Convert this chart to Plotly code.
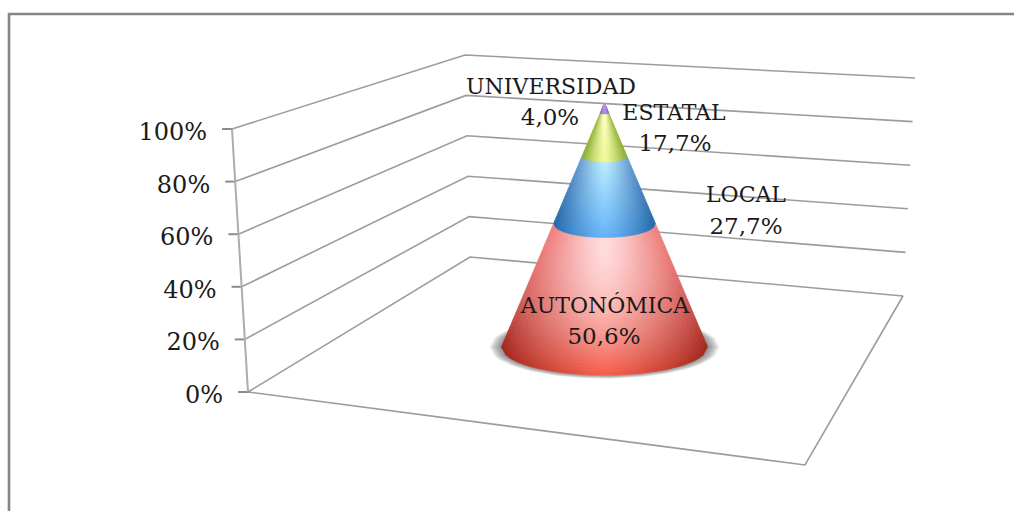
import plotly.graph_objects as go

# Chart data
categories = ["AUTONÓMICA", "LOCAL", "ESTATAL", "UNIVERSIDAD"]
shares = [50.6, 27.7, 17.7, 4.0]
axis_ticks = [0, 20, 40, 60, 80, 100]
tick_labels = ["0%", "20%", "40%", "60%", "80%", "100%"]

# Wall and floor corners of the 3D box, as (x, y) at 0% and at 100%
LEFT = ((248, 392), (232, 129))
BACK = ((470, 257), (465, 55))
RIGHT = ((903, 296), (915, 78))
FRONT = (805, 465)

# Cone projection
CONE_X, CONE_BASE_Y, CONE_H, CONE_R, CONE_K = 604.5, 347, 244, 103, 0.272

# Shading per band: top-centre, top-edge, bottom-centre, bottom-edge, vertical falloff
BAND_SHADES = [
    ((255, 220, 220), (238, 128, 126), (244, 92, 74), (160, 36, 26), 1.9),
    ((186, 236, 255), (108, 158, 212), (100, 178, 248), (32, 102, 168), 1.0),
    ((255, 255, 196), (158, 188, 68), (238, 248, 150), (134, 170, 46), 1.0),
    ((190, 160, 230), (140, 110, 190), (170, 140, 220), (128, 100, 180), 1.0),
]
BAND_ROWS = [36, 20, 10, 2]
COLUMNS = 44

# Centres of the two text lines of each data label
NAME_XY = [(605, 307), (746, 196), (674, 114), (551, 88)]
VALUE_XY = [(604, 338), (746, 228), (675, 145), (550, 119)]
GRID = "rgba(118,118,118,0.72)"
FONT = "DejaVu Serif"
TEXT = "#1a1a1a"


def lerp(a, b, t):
    return a + (b - a) * t


def wall_point(corner, pct):
    t = pct / 100
    return lerp(corner[0][0], corner[1][0], t), lerp(corner[0][1], corner[1][1], t)


def cone_point(pct, sin_a):
    # sin_a runs over the visible half of the circle, -1 (left) to 1 (right)
    r = CONE_R * (1 - pct / 100)
    y_front = (1 - sin_a * sin_a) ** 0.5
    return CONE_X + r * sin_a, CONE_BASE_Y - CONE_H * pct / 100 + r * CONE_K * y_front


def shade(colors, t, s):
    tc, te, bc, be, falloff = colors
    t = t ** falloff
    weight = abs(s) ** 1.35
    return "rgb({},{},{})".format(*(
        round(lerp(lerp(tc[i], bc[i], t), lerp(te[i], be[i], t), weight)) for i in range(3)
    ))


fig = go.Figure()


def polyline(xs, ys, color=GRID, width=1.6, fill=None):
    fig.add_trace(go.Scatter(
        x=xs, y=ys, mode="lines", hoverinfo="skip", showlegend=False,
        line=dict(color=color, width=width),
        fill="toself" if fill else None, fillcolor=fill,
    ))


# Gridlines on the two walls, with tick stubs
for pct in axis_ticks:
    a, b, c = wall_point(LEFT, pct), wall_point(BACK, pct), wall_point(RIGHT, pct)
    polyline([a[0], b[0], c[0]], [a[1], b[1], c[1]])
    polyline([a[0] - 10, a[0]], [a[1], a[1]], color="rgb(140,140,140)", width=2)

# Vertical axis and floor outline
polyline([wall_point(LEFT, 0)[0], wall_point(LEFT, 100)[0]],
         [wall_point(LEFT, 0)[1], wall_point(LEFT, 100)[1]],
         color="rgb(172,172,172)", width=2)
polyline([LEFT[0][0], FRONT[0], RIGHT[0][0]], [LEFT[0][1], FRONT[1], RIGHT[0][1]])

# Chart frame
polyline([9, 9, 1014], [511, 14, 14], color="rgb(134,134,134)", width=2.6)

# Soft shadow under the cone base
SHADOW_STEPS = 9
for step in range(SHADOW_STEPS):
    grow = 12 * (1 - step / SHADOW_STEPS)
    rx, ry = CONE_R + grow, CONE_R * CONE_K + grow * 0.3
    n = 48
    xs, ys = [], []
    for i in range(n + 1):
        u = -1 + 2 * i / n
        xs.append(CONE_X + rx * u)
        ys.append(CONE_BASE_Y + ry * (1 - u * u) ** 0.5)
    for i in range(n + 1):
        u = 1 - 2 * i / n
        xs.append(CONE_X + rx * u)
        ys.append(CONE_BASE_Y - ry * (1 - u * u) ** 0.5)
    polyline(xs, ys, color="rgba(0,0,0,0)", width=0, fill="rgba(70,70,70,0.085)")

# Cone bands, stacked from the cumulative shares; cells of one colour share a trace
cells = {}
low = 0.0
for share, colors, rows in zip(shares, BAND_SHADES, BAND_ROWS):
    for r in range(rows):
        p0 = low + share * r / rows
        p1 = low + share * (r + 1) / rows
        t = 1 - (r + 0.5) / rows
        for c in range(COLUMNS):
            s0 = -1 + 2 * c / COLUMNS
            s1 = -1 + 2 * (c + 1) / COLUMNS
            corners = [cone_point(p0, s0), cone_point(p0, s1), cone_point(p1, s1), cone_point(p1, s0)]
            xs, ys = cells.setdefault(shade(colors, t, (s0 + s1) / 2), ([], []))
            xs += [q[0] for q in corners] + [corners[0][0], None]
            ys += [q[1] for q in corners] + [corners[0][1], None]
    low += share
for col, (xs, ys) in cells.items():
    polyline(xs, ys, color=col, width=0.8, fill=col)

# Axis tick labels
fig.add_trace(go.Scatter(
    x=[wall_point(LEFT, p)[0] - 25 for p in axis_ticks],
    y=[wall_point(LEFT, p)[1] + 5 for p in axis_ticks],
    text=tick_labels, mode="text", textposition="middle left", hoverinfo="skip",
    showlegend=False, textfont=dict(family=FONT, size=24, color=TEXT),
))

# Data labels
fig.add_trace(go.Scatter(
    x=[p[0] for p in NAME_XY], y=[p[1] for p in NAME_XY], text=categories,
    mode="text", textposition="middle center", hoverinfo="skip", showlegend=False,
    textfont=dict(family=FONT, size=22, color=TEXT),
))
fig.add_trace(go.Scatter(
    x=[p[0] for p in VALUE_XY], y=[p[1] for p in VALUE_XY],
    text=[f"{value:.1f}%".replace(".", ",") for value in shares],
    mode="text", textposition="middle center", hoverinfo="skip", showlegend=False,
    textfont=dict(family=FONT, size=23, color=TEXT),
))

fig.update_layout(
    width=1014, height=511, margin=dict(l=0, r=0, t=0, b=0),
    paper_bgcolor="white", plot_bgcolor="white", showlegend=False,
    xaxis=dict(range=[0, 1014], visible=False, fixedrange=True),
    yaxis=dict(range=[511, 0], visible=False, fixedrange=True),
)
fig.write_html("out.html", config={"displayModeBar": False})
